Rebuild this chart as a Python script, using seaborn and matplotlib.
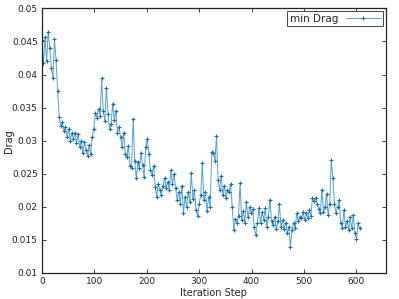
import numpy as np
import pandas as pd
import matplotlib
matplotlib.use("Agg")
import matplotlib.pyplot as plt
import seaborn as sns

# min drag per iteration (read every 3rd step off the reference)
steps = list(range(0, 609, 3))
drag = [
    0.0452, 0.0418, 0.0456, 0.0420, 0.0465, 0.0440, 0.0410, 0.0395, 0.0453, 0.0422,
    0.0375, 0.0336, 0.0322, 0.0328, 0.0315, 0.0320, 0.0306, 0.0318, 0.0300, 0.0311,
    0.0303, 0.0312, 0.0296, 0.0310, 0.0290, 0.0300, 0.0281, 0.0298, 0.0286, 0.0277,
    0.0293, 0.0280, 0.0306, 0.0318, 0.0342, 0.0335, 0.0348, 0.0338, 0.0394, 0.0345,
    0.0330, 0.0380, 0.0340, 0.0318, 0.0325, 0.0356, 0.0332, 0.0345, 0.0312, 0.0320,
    0.0305, 0.0290, 0.0312, 0.0280, 0.0276, 0.0292, 0.0262, 0.0259, 0.0333, 0.0270,
    0.0244, 0.0268, 0.0258, 0.0282, 0.0263, 0.0245, 0.0290, 0.0303, 0.0280, 0.0256,
    0.0248, 0.0262, 0.0230, 0.0215, 0.0235, 0.0225, 0.0218, 0.0232, 0.0244, 0.0228,
    0.0238, 0.0226, 0.0255, 0.0235, 0.0250, 0.0228, 0.0211, 0.0222, 0.0205, 0.0232,
    0.0191, 0.0215, 0.0200, 0.0222, 0.0208, 0.0251, 0.0212, 0.0225, 0.0195, 0.0186,
    0.0205, 0.0218, 0.0266, 0.0210, 0.0222, 0.0193, 0.0215, 0.0200, 0.0283, 0.0281,
    0.0270, 0.0307, 0.0240, 0.0226, 0.0247, 0.0218, 0.0232, 0.0214, 0.0226, 0.0222,
    0.0235, 0.0199, 0.0165, 0.0182, 0.0176, 0.0186, 0.0236, 0.0180, 0.0194, 0.0176,
    0.0208, 0.0184, 0.0199, 0.0190, 0.0196, 0.0170, 0.0157, 0.0175, 0.0198, 0.0175,
    0.0192, 0.0180, 0.0198, 0.0170, 0.0185, 0.0211, 0.0178, 0.0172, 0.0185, 0.0166,
    0.0178, 0.0204, 0.0170, 0.0180, 0.0167, 0.0176, 0.0160, 0.0170, 0.0140, 0.0165,
    0.0176, 0.0168, 0.0190, 0.0178, 0.0185, 0.0183, 0.0192, 0.0180, 0.0190, 0.0183,
    0.0195, 0.0186, 0.0213, 0.0209, 0.0214, 0.0205, 0.0197, 0.0190, 0.0226, 0.0192,
    0.0200, 0.0219, 0.0187, 0.0205, 0.0271, 0.0244, 0.0205, 0.0190, 0.0200, 0.0210,
    0.0176, 0.0168, 0.0195, 0.0170, 0.0178, 0.0165, 0.0184, 0.0168, 0.0187, 0.0160,
    0.0152, 0.0175, 0.0168,
]
x_ticks = [0, 100, 200, 300, 400, 500, 600]
y_ticks = [0.01, 0.015, 0.02, 0.025, 0.03, 0.035, 0.04, 0.045, 0.05]
y_labels = ["0.01", "0.015", "0.02", "0.025", "0.03", "0.035", "0.04", "0.045", "0.05"]

df = pd.DataFrame({"Iteration Step": steps, "Drag": drag})

sns.set_style("ticks")
plt.rcParams["font.family"] = ["DejaVu Sans"]

fig = plt.figure(figsize=(3.99, 2.99), dpi=100)
ax = fig.add_axes([0.105, 0.087, 0.862, 0.885])

sns.lineplot(data=df, x="Iteration Step", y="Drag", ax=ax, color="#5b9fcf",
             linewidth=0.7, marker="+", markersize=3.5, markeredgewidth=0.8,
             markeredgecolor="#1a6fab", label="min Drag")

ax.set_xlim(0, 656)
ax.set_ylim(0.01, 0.05)
ax.set_xticks(x_ticks)
ax.set_yticks(y_ticks)
ax.set_yticklabels(y_labels)
ax.tick_params(direction="in", top=True, right=True, labelsize=6.5,
               length=3, width=0.6, pad=3, colors="#222222")
ax.set_xlabel("Iteration Step", fontsize=7, labelpad=1)
ax.set_ylabel("Drag", fontsize=7)
ax.yaxis.set_label_coords(-0.082, 0.5)
for side in ["left", "bottom", "top", "right"]:
    ax.spines[side].set_visible(True)
    ax.spines[side].set_color("#222222")
    ax.spines[side].set_linewidth(0.9)

leg = ax.legend(loc="upper right", fontsize=7.5, markerfirst=False, fancybox=False,
                framealpha=1, borderpad=0.2, handlelength=3.3, borderaxespad=0.3,
                handletextpad=0.8)
leg.get_frame().set_edgecolor("#444444")
leg.get_frame().set_linewidth(0.7)

fig.savefig("out.png", dpi=100)
